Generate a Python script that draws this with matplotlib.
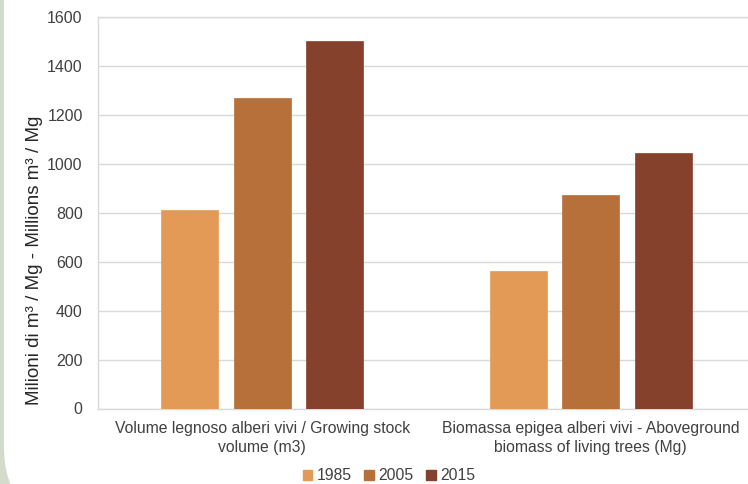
import matplotlib
matplotlib.use("Agg")
import matplotlib.pyplot as plt
from matplotlib.patches import FancyBboxPatch, Patch
import numpy as np

plt.rcParams['font.family'] = ['Liberation Sans', 'DejaVu Sans']

categories = ["Volume legnoso alberi vivi / Growing stock\nvolume (m3)",
              "Biomassa epigea alberi vivi - Aboveground\nbiomass of living trees (Mg)"]
years = ["1985", "2005", "2015"]
values_1985 = [810, 560]
values_2005 = [1270, 873]
values_2015 = [1502, 1043]
yticks = [0, 200, 400, 600, 800, 1000, 1200, 1400, 1600]
ylabel = "Milioni di m³ / Mg - Millions m³ / Mg"

colors = ["#E39A56", "#B8703B", "#86412C"]
text_color = "#404040"
grid_color = "#D9D9D9"

W, H = 748, 484
fig = plt.figure(figsize=(W / 100, H / 100), dpi=100)
fig.patch.set_facecolor("#D3DBCB")
card = FancyBboxPatch((4, -36), 900, 600, boxstyle="round,pad=0,rounding_size=73",
                      transform=None, facecolor="white", edgecolor="none", zorder=-10)
fig.patches.append(card)

left, right = 98, 755
bottom, top = 408.5, 16.7
ax = fig.add_axes([left / W, 1 - bottom / H, (right - left) / W, (bottom - top) / H])
ax.set_facecolor("white")

x = np.arange(len(categories))
step = 72.5 / 328.5
width = 57 / 328.5
series = [values_1985, values_2005, values_2015]
for i, (vals, yr, c) in enumerate(zip(series, years, colors)):
    ax.bar(x + (i - 1) * step, vals, width=width, color=c, label=yr, zorder=3,
           edgecolor=c, linewidth=0.5)

ax.set_xlim(-0.5, 1.5)
ax.set_ylim(0, 1600)
ax.set_yticks(yticks)
ax.set_yticklabels([str(t) for t in yticks])
ax.set_xticks(x)
ax.set_xticklabels(categories, linespacing=1.3)
ax.tick_params(axis="y", length=0, labelsize=11.5, labelcolor=text_color, pad=11)
ax.tick_params(axis="x", length=0, labelsize=11.3, labelcolor=text_color, pad=9)
ax.yaxis.grid(True, color=grid_color, linewidth=1.0, zorder=0)
ax.set_axisbelow(True)
for s in ax.spines.values():
    s.set_color(grid_color)
    s.set_linewidth(1.0)

fig.text(35 / W, 1 - 260 / H, ylabel, rotation=90, ha="center", va="center",
         fontsize=13.5, color="#262626")

handles = [Patch(facecolor=c, edgecolor=c, label=yr) for yr, c in zip(years, colors)]
fig.legend(handles=handles, loc="center", bbox_to_anchor=(389 / W, 1 - 476 / H),
           ncol=3, frameon=False, fontsize=11.3, handlelength=0.6, handleheight=0.6,
           handletextpad=0.3, columnspacing=0.8, labelcolor=text_color)

fig.savefig("out.png", dpi=100, facecolor=fig.get_facecolor())
